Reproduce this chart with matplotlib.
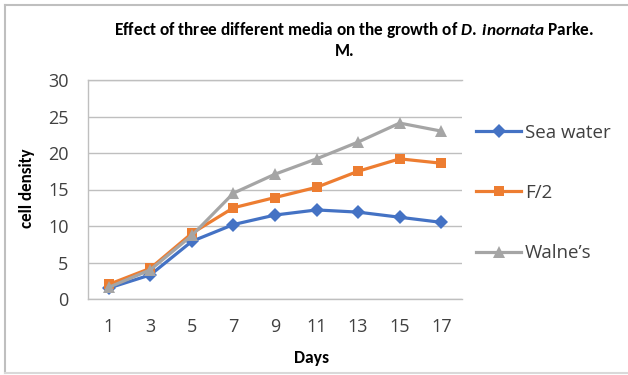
import matplotlib
matplotlib.use("Agg")
import matplotlib.pyplot as plt
from matplotlib import font_manager as fm
from matplotlib.lines import Line2D

days = [1, 3, 5, 7, 9, 11, 13, 15, 17]
sea_water = [1.5, 3.3, 7.9, 10.2, 11.5, 12.2, 11.9, 11.2, 10.5]
f2 = [2.0, 4.2, 9.0, 12.5, 13.9, 15.3, 17.5, 19.2, 18.6]
walnes = [1.6, 4.0, 8.7, 14.5, 17.1, 19.2, 21.5, 24.1, 23.0]

series = [
    ("Sea water", sea_water, "#4472C4", "D", 7),
    ("F/2", f2, "#ED7D31", "s", 7.5),
    ("Walne\u2019s", walnes, "#A5A5A5", "^", 8.5),
]

installed = {f.name for f in fm.fontManager.ttflist}


def first_font(*names):
    for n in names:
        if n in installed:
            return n
    return "DejaVu Sans"


narrow = first_font("Carlito", "Liberation Sans Narrow", "Roboto Condensed",
                    "Open Sans Condensed", "PT Sans Narrow", "Archivo Narrow",
                    "Lato")
body = first_font("Open Sans", "Noto Sans")

plt.rcParams["mathtext.fontset"] = "custom"
plt.rcParams["mathtext.rm"] = f"{narrow}:bold"
plt.rcParams["mathtext.it"] = f"{narrow}:italic:bold"

fig = plt.figure(figsize=(6.28, 3.75), dpi=100)
ax = fig.add_axes([88 / 628, 76 / 375, 374 / 628, 219 / 375])

x = list(range(len(days)))
for label, vals, color, marker, ms in series:
    ax.plot(x, vals, color=color, lw=2.3, marker=marker, ms=ms,
            markeredgewidth=0, label=label, zorder=3)

ax.set_xlim(-0.5, len(days) - 0.5)
ax.set_ylim(0, 30)
ax.set_yticks(range(0, 31, 5))
ax.set_xticks(x)
ax.set_xticklabels([str(d) for d in days])
ax.grid(axis="y", color="#BFBFBF", lw=1.0)
ax.set_axisbelow(True)
ax.spines["right"].set_visible(False)
for side in ("left", "bottom", "top"):
    ax.spines[side].set_color("#BFBFBF")
    ax.spines[side].set_linewidth(1.0)
ax.tick_params(length=0, labelsize=13, colors="#404040")
ax.tick_params(axis="y", pad=14)
ax.tick_params(axis="x", pad=14)
for t in ax.get_xticklabels() + ax.get_yticklabels():
    t.set_family(body)

renderer = fig.canvas.get_renderer()


def fit(txt, target_px, horizontal=True):
    # scale the font so the rendered text spans target_px
    bb = txt.get_window_extent(renderer)
    span = bb.width if horizontal else bb.height
    txt.set_fontsize(txt.get_fontsize() * target_px / span)


ylab = fig.text(27 / 628, 1 - 188 / 375, "cell density", rotation=90,
                ha="center", va="center", fontsize=10, fontweight="bold",
                family=narrow, color="#000000")
fit(ylab, 80, horizontal=False)
xlab = fig.text(312 / 628, 1 - 358 / 375, "Days", ha="center", va="center",
                fontsize=10, fontweight="bold", family=narrow)
fit(xlab, 35)
title = fig.text(354 / 628, 1 - 30 / 375, "Effect of three different media on the growth of "
                 r"$\mathit{D.\:inornata}$ Parke.", ha="center", va="center",
                 fontsize=10, fontweight="bold", family=narrow)
fit(title, 480)
fig.text(345 / 628, 1 - 51 / 375, "M.", ha="center", va="center",
         fontsize=title.get_fontsize(), fontweight="bold", family=narrow)

handles = [Line2D([], [], color=c, lw=2.3, marker=m, ms=ms, markeredgewidth=0)
           for _, _, c, m, ms in series]
leg = fig.legend(handles, [s[0] for s in series], loc="center left",
                 bbox_to_anchor=(467 / 628, 1 - 193 / 375), frameon=False,
                 prop={"family": body, "size": 13.5}, labelspacing=2.25,
                 handlelength=2.4, handletextpad=0.2, borderpad=0)
for t in leg.get_texts():
    t.set_color("#404040")

# light frame around the chart
fig.add_artist(Line2D([5 / 628, 5 / 628], [2 / 375, 370 / 375],
                      transform=fig.transFigure, color="#BFBFBF", lw=1.5))
fig.add_artist(Line2D([5 / 628, 1], [370 / 375, 370 / 375],
                      transform=fig.transFigure, color="#BFBFBF", lw=1.5))
fig.add_artist(Line2D([5 / 628, 1], [2 / 375, 2 / 375],
                      transform=fig.transFigure, color="#D9D9D9", lw=1.5))

fig.savefig("out.png", dpi=100)
